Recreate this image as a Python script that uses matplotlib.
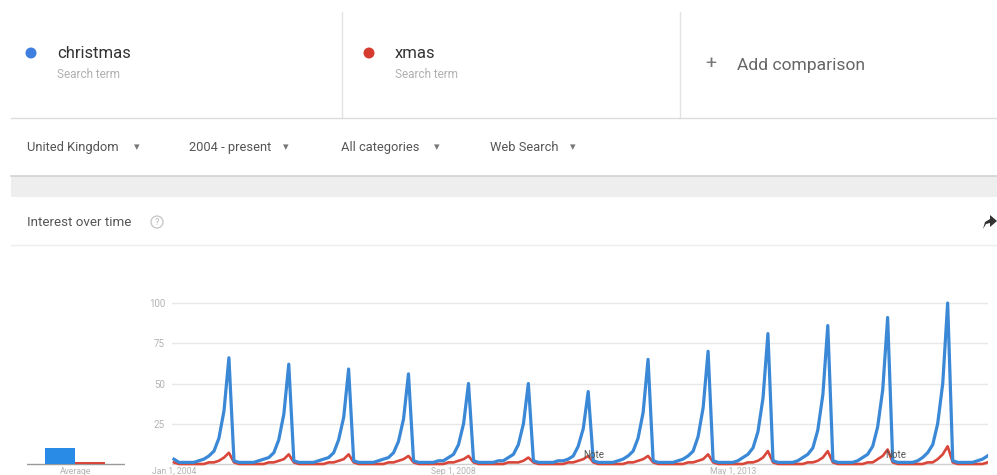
"""Google Trends style chart: christmas vs xmas, United Kingdom, 2004 - present."""

import matplotlib

matplotlib.use("Agg")

import matplotlib.pyplot as plt
import numpy as np
import pandas as pd
from matplotlib.patches import Circle, Polygon, Rectangle

plt.rcParams["font.family"] = ["Roboto", "DejaVu Sans"]

W, H = 997, 475

# monthly interest, Jan..Dec per year (2017 runs to Aug)
christmas_by_year = [
    [3, 1, 1, 1, 1, 2, 3, 5, 8, 16, 33, 66],
    [2, 1, 1, 1, 1, 2, 3, 4, 7, 15, 31, 62],
    [2, 1, 1, 1, 1, 2, 3, 4, 7, 15, 29, 59],
    [2, 1, 1, 1, 1, 2, 3, 4, 7, 14, 28, 56],
    [2, 1, 1, 1, 1, 2, 2, 4, 6, 12, 25, 50],
    [2, 1, 1, 1, 1, 2, 2, 4, 6, 12, 25, 50],
    [2, 1, 1, 1, 1, 2, 2, 3, 5, 11, 22, 45],
    [2, 1, 1, 1, 1, 2, 3, 5, 8, 16, 32, 65],
    [2, 1, 1, 1, 1, 2, 3, 5, 8, 17, 35, 70],
    [2, 1, 1, 1, 1, 2, 4, 6, 10, 20, 41, 81],
    [2, 1, 1, 1, 1, 2, 4, 6, 10, 21, 43, 86],
    [2, 1, 1, 1, 1, 2, 4, 6, 11, 23, 46, 91],
    [2, 1, 1, 1, 1, 2, 4, 7, 12, 25, 50, 100],
    [2, 1, 1, 1, 1, 2, 3, 5],
]
xmas_by_year = [
    [1, 0, 0, 0, 0, 0, 0, 1, 1, 2, 4, 7],
    [1, 0, 0, 0, 0, 0, 0, 1, 1, 2, 3, 6],
    [1, 0, 0, 0, 0, 0, 0, 1, 1, 2, 3, 6],
    [1, 0, 0, 0, 0, 0, 0, 1, 1, 2, 3, 5],
    [1, 0, 0, 0, 0, 0, 0, 1, 1, 2, 3, 5],
    [1, 0, 0, 0, 0, 0, 0, 1, 1, 1, 2, 4],
    [1, 0, 0, 0, 0, 0, 0, 1, 1, 2, 3, 5],
    [1, 0, 0, 0, 0, 0, 0, 1, 1, 2, 3, 5],
    [1, 0, 0, 0, 0, 0, 0, 1, 1, 2, 3, 6],
    [1, 0, 0, 0, 0, 0, 0, 1, 1, 2, 4, 8],
    [1, 0, 0, 0, 0, 0, 0, 1, 1, 2, 4, 8],
    [1, 0, 0, 0, 0, 0, 0, 1, 1, 3, 5, 9],
    [1, 0, 0, 0, 0, 0, 0, 1, 1, 3, 6, 11],
    [1, 0, 0, 0, 0, 0, 0, 1],
]
average_values = [10, 1]

terms = ["christmas", "xmas"]
filters = ["United Kingdom", "2004 - present", "All categories", "Web Search"]
y_ticks = [25, 50, 75, 100]
x_tick_dates = ["2004-01-01", "2008-09-01", "2013-05-01"]
x_tick_labels = ["Jan 1, 2004", "Sep 1, 2008", "May 1, 2013"]
note_dates = ["2011-01-05", "2016-01-20"]

christmas = np.concatenate([np.array(v, dtype=float) for v in christmas_by_year])
xmas = np.concatenate([np.array(v, dtype=float) for v in xmas_by_year])
dates = pd.date_range("2004-01-01", periods=len(christmas), freq="MS")

BLUE = "#3a88d6"
RED = "#d9463a"
BAR_BLUE = "#2a8be6"
GRID = "#e8e8e8"
LABEL = "#b3b3b3"


def px_axes(fig, left, top, right, bottom):
    return fig.add_axes([left / W, 1 - bottom / H, (right - left) / W, (bottom - top) / H])


fig = plt.figure(figsize=(W / 100, H / 100), dpi=100)
fig.patch.set_facecolor("white")

# page chrome drawn in pixel coordinates
ui = fig.add_axes([0, 0, 1, 1])
ui.set_xlim(0, W)
ui.set_ylim(H, 0)
ui.axis("off")

ui.plot([342, 342], [12, 118], color="#e3e3e3", lw=1)
ui.plot([680, 680], [12, 118], color="#e3e3e3", lw=1)
ui.plot([11, W], [118, 118], color="#dddddd", lw=1)

for x0, term, color in [(31, terms[0], "#3f7fe0"), (369, terms[1], "#d63b30")]:
    ui.add_patch(Circle((x0, 53), 5.5, color=color, lw=0))
    ui.text(x0 + 26, 58, term, fontsize=12, color="#333333", va="baseline", ha="left")
    ui.text(x0 + 26, 78, "Search term", fontsize=8.5, color="#b0b0b0", va="baseline", ha="left")

ui.text(711, 64, "+", fontsize=14, color="#777777", va="center", ha="center")
ui.text(737, 70, "Add comparison", fontsize=12.6, color="#666666", va="baseline", ha="left")

for x0, x_arrow, label in zip([27, 189, 341, 490], [137, 286, 437, 573], filters):
    ui.text(x0, 151, label, fontsize=9.3, color="#555555", va="baseline", ha="left")
    ui.text(x_arrow, 147, "\u25be", fontsize=8, color="#777777", va="center", ha="center",
            family=["DejaVu Sans"])

ui.add_patch(Rectangle((11, 176), W - 11, 21, facecolor="#eeeeee", edgecolor="none"))
ui.plot([11, W], [176, 176], color="#d2d2d2", lw=1.2)

ui.text(27, 226, "Interest over time", fontsize=9.6, color="#555555", va="baseline", ha="left")
ui.add_patch(Circle((157, 222), 6, facecolor="none", edgecolor="#c4c4c4", lw=0.9))
ui.text(157, 222.5, "?", fontsize=6.5, color="#b5b5b5", va="center", ha="center")
ui.add_patch(Polygon([[983, 229], [985, 222], [990, 219], [990, 215], [997, 221],
                      [990, 227], [990, 223], [986, 224]], closed=True, color="#333333", lw=0))
ui.plot([11, W], [245, 245], color="#eeeeee", lw=1)

# main chart, 0 at y=464 px and 100 at y=303 px
y0_px, y100_px = 464, 303
top_px, bottom_px = 298, 469
per_unit = (y0_px - y100_px) / 100
ylim = (-(bottom_px - y0_px) / per_unit, 100 + (y100_px - top_px) / per_unit)

ax = px_axes(fig, 172, top_px, 988, bottom_px)
ax.set_facecolor("none")
ax.set_ylim(*ylim)
ax.set_xlim(pd.Timestamp("2003-12-20"), pd.Timestamp("2017-08-04"))
for v in y_ticks:
    ax.axhline(v, color=GRID, lw=1, zorder=0)
ax.axhline(0, color="#cfcfcf", lw=1, zorder=0)
ax.plot(dates, xmas, color=RED, lw=1.9, solid_joinstyle="round", zorder=2)
ax.plot(dates, christmas, color=BLUE, lw=2.3, solid_joinstyle="round", zorder=3)
for d in note_dates:
    ax.text(pd.Timestamp(d), 5.5, "Note", fontsize=7, color="#555555",
            ha="center", va="center", zorder=4)

ax.set_yticks(y_ticks)
ax.set_yticklabels([str(v) for v in y_ticks])
ax.set_xticks([pd.Timestamp(d) for d in x_tick_dates])
ax.set_xticklabels(x_tick_labels)
ax.tick_params(axis="y", length=0, pad=5, labelsize=7, labelcolor=LABEL)
ax.tick_params(axis="x", length=0, pad=-1.5, labelsize=6.2, labelcolor=LABEL)
for s in ax.spines.values():
    s.set_visible(False)

# average panel shares the same vertical scale
avg = px_axes(fig, 27, top_px, 125, bottom_px)
avg.set_facecolor("none")
avg.set_ylim(*ylim)
avg.set_xlim(-1.1, 2.17)
avg.bar([0, 1], average_values, width=1, color=[BAR_BLUE, RED], zorder=2)
avg.axhline(0, color="#9a9a9a", lw=1, zorder=1)
avg.set_yticks([])
avg.set_xticks([0.53])
avg.set_xticklabels(["Average"])
avg.tick_params(axis="x", length=0, pad=-1.5, labelsize=6.2, labelcolor=LABEL)
for s in avg.spines.values():
    s.set_visible(False)

fig.savefig("out.png", dpi=100)
